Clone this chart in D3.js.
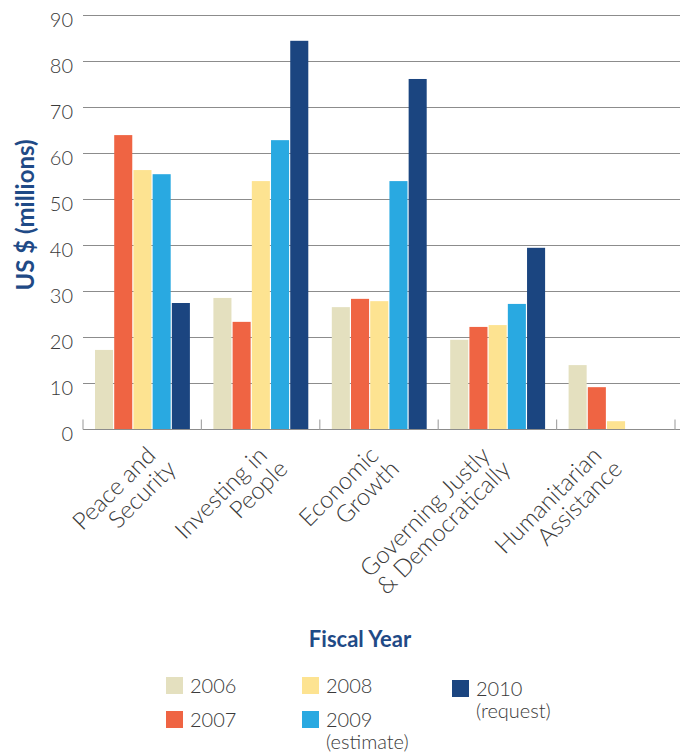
<!DOCTYPE html>
<html>
<head>
<meta charset="utf-8">
<script src="https://cdn.jsdelivr.net/npm/d3@7"></script>
<style>
  html, body { margin: 0; padding: 0; background: #fff; }
  svg { display: block; }
</style>
</head>
<body>
<svg id="chart" width="685" height="753"></svg>
<script>
// Program funding by objective, fiscal years 2006–2010
const categories = [
  ["Peace and", "Security"],
  ["Investing in", "People"],
  ["Economic", "Growth"],
  ["Governing Justly", "& Democratically"],
  ["Humanitarian", "Assistance"]
];
const seriesKeys = ["2006", "2007", "2008", "2009", "2010"];
const seriesNotes = ["", "", "", "(estimate)", "(request)"];
const seriesColors = ["#e4e0bf", "#ef6443", "#fde391", "#29a9e1", "#1b4580"];

const values2006 = [17.3, 28.6, 26.6, 19.5, 14.0];
const values2007 = [64.0, 23.4, 28.4, 22.3, 9.2];
const values2008 = [56.4, 54.0, 27.9, 22.7, 1.8];
const values2009 = [55.5, 62.9, 54.0, 27.3, 0];
const values2010 = [27.5, 84.5, 76.2, 39.5, 0];
const seriesValues = [values2006, values2007, values2008, values2009, values2010];

const yTicks = [0, 10, 20, 30, 40, 50, 60, 70, 80, 90];

const FONT = "'Lato', 'Open Sans', sans-serif";
const TEXT = "#3a3a3a";
const BLUE = "#1f4a86";

const svg = d3.select("#chart");

const plot = { left: 83, right: 675, top: 15.5, bottom: 429.5 };

const catIdx = categories.map((d, i) => i);
const x = d3.scaleBand().domain(catIdx).range([plot.left, plot.right]);
const xInner = d3.scaleBand().domain(seriesKeys)
  .range([12, x.bandwidth() - 11.5]).paddingInner(0.06);
const y = d3.scaleLinear().domain([0, 90]).range([plot.bottom, plot.top]);
// anchor points for the slanted category labels (end of first line)
const xLabel = d3.scalePoint().domain(catIdx).range([157, 603]);

// horizontal grid
svg.append("g")
  .selectAll("line")
  .data(yTicks.filter(t => t > 0))
  .join("line")
  .attr("x1", plot.left).attr("x2", 680)
  .attr("y1", d => y(d)).attr("y2", d => y(d))
  .attr("stroke", "#8c8c8c").attr("stroke-width", 1.2);

// y tick labels
svg.append("g")
  .selectAll("text")
  .data(yTicks)
  .join("text")
  .attr("x", 73)
  .attr("y", d => y(d))
  .attr("dy", "0.55em")
  .attr("text-anchor", "end")
  .attr("font-family", FONT)
  .attr("font-weight", 300)
  .attr("font-size", 20)
  .attr("fill", TEXT)
  .text(d => d);

// bars
const groups = svg.append("g")
  .selectAll("g")
  .data(catIdx)
  .join("g")
  .attr("transform", i => `translate(${x(i)},0)`);

groups.selectAll("rect")
  .data(i => seriesKeys.map((k, s) => ({ key: k, s, v: seriesValues[s][i] })))
  .join("rect")
  .attr("x", d => xInner(d.key))
  .attr("width", xInner.bandwidth())
  .attr("y", d => y(d.v))
  .attr("height", d => y(0) - y(d.v))
  .attr("fill", d => seriesColors[d.s]);

// baseline and category separators
svg.append("line")
  .attr("x1", plot.left).attr("x2", 680)
  .attr("y1", y(0)).attr("y2", y(0))
  .attr("stroke", "#8c8c8c").attr("stroke-width", 1.2);

const boundaries = catIdx.map(i => x(i)).concat([x(catIdx.length - 1) + x.bandwidth()]);
svg.append("g")
  .selectAll("line")
  .data(boundaries)
  .join("line")
  .attr("x1", d => d).attr("x2", d => d)
  .attr("y1", y(0) - 10).attr("y2", y(0))
  .attr("stroke", "#a8a8a8").attr("stroke-width", 1.2);

// rotated category labels
const catLabels = svg.append("g")
  .selectAll("text")
  .data(catIdx)
  .join("text")
  .attr("transform", i => `translate(${xLabel(i)},457) rotate(-45)`)
  .attr("text-anchor", "end")
  .attr("font-family", FONT)
  .attr("font-weight", 300)
  .attr("font-size", 24)
  .attr("fill", TEXT);

catLabels.selectAll("tspan")
  .data(i => categories[i])
  .join("tspan")
  .attr("x", (d, j) => j === 0 ? 0 : 5)
  .attr("dy", (d, j) => j === 0 ? 0 : 24)
  .text(d => d);

// y axis title
svg.append("text")
  .attr("transform", "translate(34,215) rotate(-90)")
  .attr("text-anchor", "middle")
  .attr("font-family", FONT)
  .attr("font-weight", 700)
  .attr("font-size", 24)
  .attr("fill", BLUE)
  .text("US $ (millions)");

// legend
svg.append("text")
  .attr("x", 360).attr("y", 647)
  .attr("text-anchor", "middle")
  .attr("font-family", FONT)
  .attr("font-weight", 700)
  .attr("font-size", 22)
  .attr("fill", BLUE)
  .text("Fiscal Year");

const legendPos = [
  { x: 166, y: 677 },
  { x: 166, y: 711 },
  { x: 302, y: 677 },
  { x: 302, y: 711 },
  { x: 452, y: 680 }
];

const legend = svg.append("g")
  .selectAll("g")
  .data(seriesKeys.map((k, s) => ({ key: k, s })))
  .join("g")
  .attr("transform", d => `translate(${legendPos[d.s].x},${legendPos[d.s].y})`);

legend.append("rect")
  .attr("width", 17).attr("height", 17)
  .attr("fill", d => seriesColors[d.s]);

const legendText = legend.append("text")
  .attr("x", 24).attr("y", 16)
  .attr("font-family", FONT)
  .attr("font-weight", 300)
  .attr("font-size", 20)
  .attr("fill", TEXT);

legendText.append("tspan").attr("x", 24).text(d => d.key);
legendText.filter(d => seriesNotes[d.s])
  .append("tspan")
  .attr("x", 24).attr("dy", 22)
  .text(d => seriesNotes[d.s]);
</script>
</body>
</html>
